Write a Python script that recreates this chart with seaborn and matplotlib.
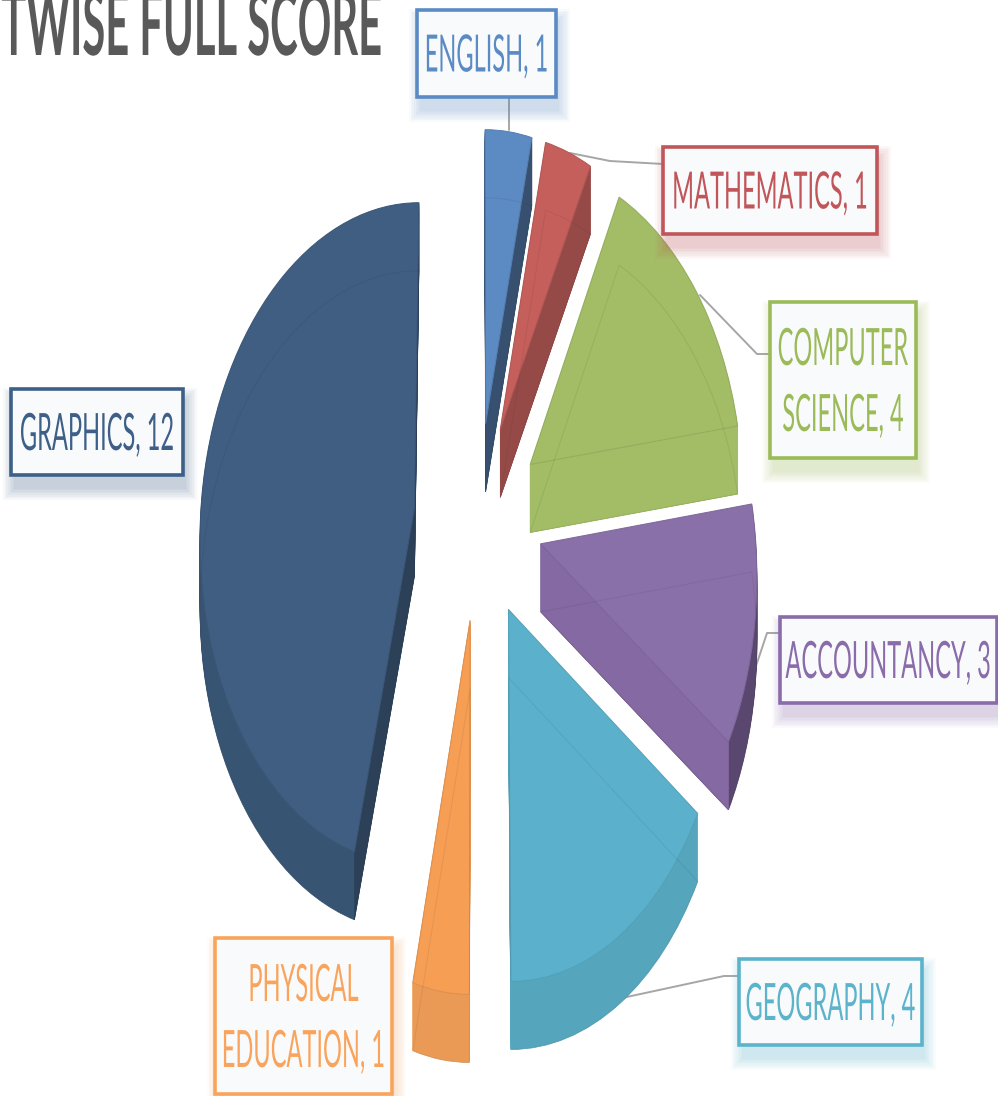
# -*- coding: utf-8 -*-
import numpy as np
import seaborn as sns
from matplotlib import pyplot as plt
from matplotlib import patheffects
from matplotlib.patches import PathPatch, Polygon, Rectangle
from matplotlib.transforms import Affine2D, Transform

#chart values
subjects = ['ENGLISH', 'MATHEMATICS', 'COMPUTER\nSCIENCE', 'ACCOUNTANCY', 'GEOGRAPHY', 'PHYSICAL\nEDUCATION', 'GRAPHICS']
scores = [1, 1, 4, 3, 4, 1, 12]
title_text = 'TWISE FULL SCORE'

#colors for top face, outer rim, cut wall, label
face_colors = ['#5c8ac2', '#c55f5c', '#a2bd66', '#8a70a8', '#5bb1cb', '#f79e55', '#3f5e82']
rim_colors = ['#37506f', '#964a48', '#a2bd66', '#59476f', '#55a5bd', '#ea9a55', '#385473']
wall_colors = ['#37506f', '#964a48', '#a2bd66', '#8469a2', '#5bb1cb', '#ea9a55', '#2c4058']
box_colors = ['#5b8bc4', '#c0565a', '#9bbb59', '#8a6cab', '#5cb3cc', '#f9a45c', '#3d5f88']

#label boxes: left, top, right, bottom
boxes = [(417, 10, 556, 97), (663, 147, 877, 234), (770, 302, 916, 458), (780, 617, 997, 703),
         (739, 959, 922, 1045), (215, 938, 392, 1094), (11, 389, 183, 475)]
leaders = [[(509, 97), (509, 130)], [(570, 153), (610, 161), (663, 164)], [(700, 295), (757, 354), (770, 354)],
           [(749, 687), (767, 633), (779, 633)], [(622, 998), (724, 976), (738, 976)]]

depth = 68
cx, cy = 478, 520


class Tilt(Transform):
    #perspective view of the flat pie, result in pixels
    input_dims = 2
    output_dims = 2

    def __init__(self, drop=0):
        super().__init__()
        self.drop = drop

    def transform_non_affine(self, values):
        values = np.asarray(values, dtype=float)
        w = 1 + 0.075 * values[:, 1]
        return np.column_stack([cx + 214 * values[:, 0] / w, cy - 330 * values[:, 1] / w + self.drop])


class Stretch(patheffects.AbstractPathEffect):
    #the source font is far wider than the picture, so pull the glyphs up from the baseline
    def __init__(self, sy):
        super().__init__()
        self.sy = sy

    def draw_path(self, renderer, gc, tpath, affine, rgbFace=None):
        renderer.draw_path(gc, tpath, Affine2D().scale(1, self.sy) + affine, rgbFace)


sns.set_theme(style="white")
plt.rcParams['font.family'] = ['Lato', 'DejaVu Sans']
palette = sns.color_palette(face_colors)

fig = plt.figure(figsize=(9.98, 10.96), dpi=100)
ax = fig.add_axes([0, 0, 1, 1])

wedges, _ = ax.pie(scores, explode=[0.3] * len(scores), colors=palette, startangle=90, counterclock=False)
ax.set_aspect('auto')
ax.set_xlim(0, 998)
ax.set_ylim(1096, 0)
ax.axis('off')

for i, w in enumerate(wedges):
    tpath = w.get_path()
    #body of the slice, swept down from the top face
    for drop in range(depth, 0, -2):
        ax.add_patch(PathPatch(tpath, fc=rim_colors[i], ec=rim_colors[i], lw=0.5,
                               transform=Tilt(drop) + ax.transData, zorder=2 + i * 0.01))
    #cut walls
    tip = np.array(w.center)
    for theta in (w.theta1, w.theta2):
        rim = tip + np.array([np.cos(np.radians(theta)), np.sin(np.radians(theta))])
        pts = np.array([tip, rim])
        upper = Tilt(0).transform(pts)
        lower = Tilt(depth).transform(pts)
        #only the wall that faces the viewer shows
        if theta == w.theta1 or i == 6:
            ax.add_patch(Polygon(np.vstack([upper, lower[::-1]]), fc=wall_colors[i], ec=wall_colors[i], lw=0.5,
                                 zorder=2.5 + i * 0.01))
    #top face
    w.set_transform(Tilt(0) + ax.transData)
    w.set_edgecolor(face_colors[i])
    w.set_linewidth(0.7)
    w.set_zorder(3)
    #near outline and the far outline showing through the face
    for drop, alpha in ((0, 0.1), (depth, 0.08)):
        ax.add_patch(PathPatch(tpath, fc='none', ec='#222222', lw=0.8, alpha=alpha,
                               transform=Tilt(drop) + ax.transData, zorder=4))

#leader lines
for line in leaders:
    xs, ys = zip(*line)
    ax.plot(xs, ys, color='#a6a6a6', lw=1.4, zorder=1.5)

#label boxes with their soft shadows
for i, (left, top, right, bottom) in enumerate(boxes):
    for k in range(8):
        grow = (8 - k) * 1.6
        ax.add_patch(Rectangle((left + 5 - grow, top + 12 - grow), right - left + 2 * grow - 4, bottom - top + 2 * grow,
                               fc=box_colors[i], ec='none', alpha=0.04, zorder=5))
    ax.add_patch(Rectangle((left, top), right - left, bottom - top, fc='#f9fafb', ec=box_colors[i], lw=2.6, zorder=6))
    parts = f'{subjects[i]}, {scores[i]}'.split('\n')
    mid = (top + bottom) / 2
    for j, part in enumerate(parts):
        base = mid + (j - (len(parts) - 1) / 2) * 66 + 18
        ax.text((left + right) / 2, base, part, color=box_colors[i], fontsize=17, ha='center', va='baseline',
                zorder=7, path_effects=[Stretch(2.18)])

ax.text(382, 55, title_text, color='#595959', fontsize=30, fontweight='bold', ha='right', va='baseline',
        path_effects=[Stretch(2.13)], zorder=7)

plt.savefig('out.png', dpi=100)
